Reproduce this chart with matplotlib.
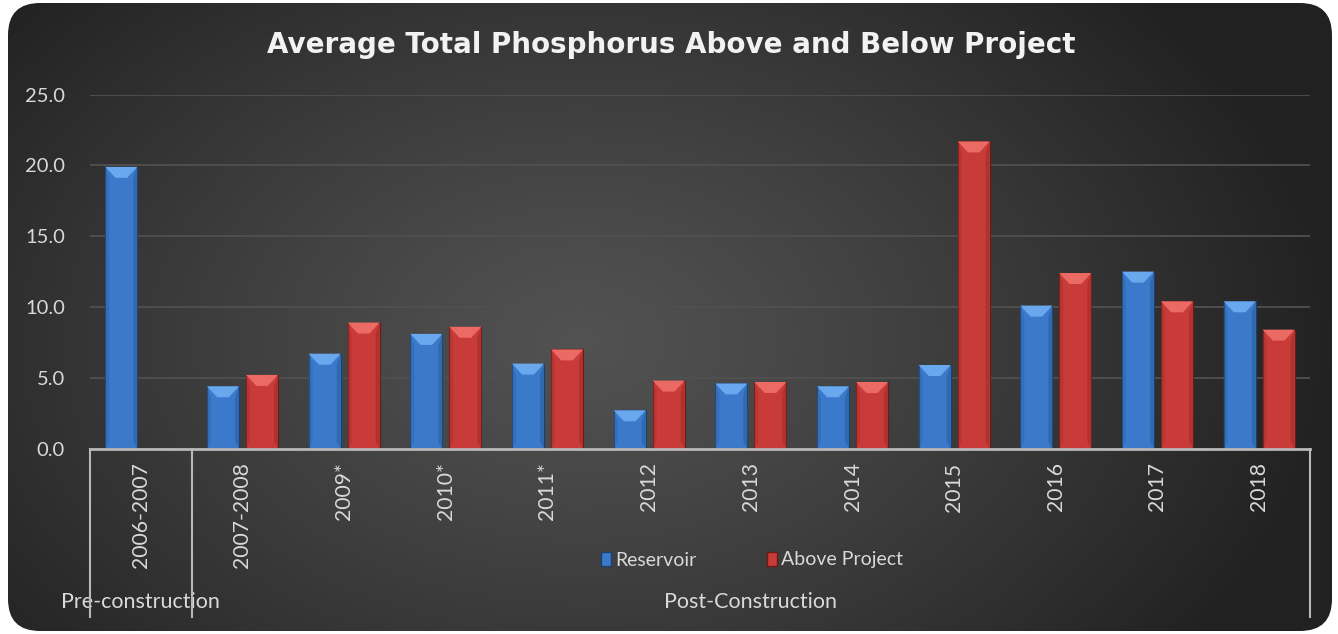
import numpy as np
import matplotlib
matplotlib.use("Agg")
import matplotlib.pyplot as plt
from matplotlib.patches import FancyBboxPatch, Polygon, Patch
import matplotlib.transforms as mtransforms

# ---------------- data ----------------
categories = ["2006-2007", "2007-2008", "2009*", "2010*", "2011*", "2012",
              "2013", "2014", "2015", "2016", "2017", "2018"]
reservoir = [19.9, 4.4, 6.7, 8.1, 6.0, 2.7, 4.6, 4.4, 5.9, 10.1, 12.5, 10.4]
above_project = [np.nan, 5.2, 8.9, 8.6, 7.0, 4.8, 4.7, 4.7, 21.7, 12.4, 10.4, 8.4]
series_names = ["Reservoir", "Above Project"]
groups = ["Pre-construction", "Post-Construction"]
group_spans = [(0, 0), (1, 11)]  # first/last category index of each group
title = "Average Total Phosphorus Above and Below Project"
yticks = [0, 5, 10, 15, 20, 25]

W, H = 1338, 634
fig = plt.figure(figsize=(W / 100, H / 100), dpi=100)
fig.patch.set_facecolor("white")

# ---------------- background (rounded, radial gradient) ----------------
bg = fig.add_axes([0, 0, 1, 1], zorder=-10)
bg.set_xlim(0, W)
bg.set_ylim(H, 0)
bg.axis("off")
yy, xx = np.mgrid[0:H, 0:W]
cx, cy = 580, 340
d = np.sqrt(((xx - cx) / 760.0) ** 2 + ((yy - cy) / 520.0) ** 2)
v = 0.32 - 0.19 * np.clip(d, 0, 1) ** 1.2
img = np.dstack([v, v, v])
im = bg.imshow(img, extent=[0, W, H, 0], interpolation="bilinear", aspect="auto")
frame = FancyBboxPatch((8, 3), W - 14, H - 6,
                       boxstyle="round,pad=0,rounding_size=32",
                       transform=bg.transData, facecolor="none", edgecolor="none")
bg.add_patch(frame)
im.set_clip_path(frame)

# ---------------- main axes ----------------
ax = fig.add_axes([90 / W, 185.5 / H, 1220 / W, 353.8 / H])
ax.set_facecolor("none")
ax.set_xlim(-0.5, len(categories) - 0.5)
ax.set_ylim(0, 25)

x = np.arange(len(categories))
bw = 0.315
off = 0.192
blue, blue_light, blue_edge = "#3b7acb", "#6aa8ee", "#1d3f6e"
red, red_light, red_edge = "#c83b38", "#ec6a64", "#6a1a18"

b1 = ax.bar(x - off, reservoir, bw, color=blue, edgecolor=blue_edge, linewidth=0.8, zorder=3)
b2 = ax.bar(x + off, above_project, bw, color=red, edgecolor=red_edge, linewidth=0.8, zorder=3)

# bevel decorations derived from each bar's geometry
fig.canvas.draw()
bb = ax.get_window_extent()
px_y = bb.height / 25.0
px_x = bb.width / len(categories)
bev_h = 11 / px_y
side_w = 4 / px_x
for bars, light, dark in [(b1, blue_light, "#2d62a6"), (b2, red_light, "#a52f2c")]:
    for p in bars:
        h = p.get_height()
        if not np.isfinite(h) or h <= 0:
            continue
        x0, w = p.get_x(), p.get_width()
        top = h
        bh = min(bev_h, h * 0.5)
        ax.add_patch(Polygon([(x0, 0), (x0 + side_w, bh * 0.6), (x0 + side_w, top - bh),
                              (x0, top)], closed=True, facecolor=dark, edgecolor="none",
                             alpha=0.45, zorder=4))
        ax.add_patch(Polygon([(x0 + w, 0), (x0 + w - side_w, bh * 0.6), (x0 + w - side_w, top - bh),
                              (x0 + w, top)], closed=True, facecolor=dark, edgecolor="none",
                             alpha=0.7, zorder=4))
        ax.add_patch(Polygon([(x0, top), (x0 + w, top), (x0 + w * 0.68, top - bh),
                              (x0 + w * 0.32, top - bh)], closed=True, facecolor=light,
                             edgecolor="none", zorder=5))

# grid and spines
ax.set_yticks(yticks)
ax.set_yticklabels([f"{t:.1f}" for t in yticks])
ax.yaxis.grid(True, color="#505050", linewidth=1.3, zorder=0)
ax.set_axisbelow(True)
for s in ["top", "right", "left"]:
    ax.spines[s].set_visible(False)
ax.spines["bottom"].set_color("#b8b8b8")
ax.spines["bottom"].set_linewidth(2)
ax.spines["bottom"].set_zorder(6)

lab_font = "Lato"
ax.set_xticks(x)
ax.set_xticklabels(categories, rotation=90, va="top", ha="center")
ax.tick_params(axis="x", length=0, pad=10, labelsize=15.2, labelcolor="#d9d9d9")
ax.tick_params(axis="y", length=0, pad=18, labelsize=14.5, labelcolor="#d9d9d9")
for t in ax.get_xticklabels() + ax.get_yticklabels():
    t.set_fontfamily(lab_font)

# multi-level category separators and group labels
trans = mtransforms.blended_transform_factory(ax.transData, ax.transAxes)
sep_bottom = -(617 - 448.5) / 353.8
bounds = sorted(set([s - 0.5 for s, e in group_spans] + [e + 0.5 for s, e in group_spans]))
for bx in bounds:
    ax.plot([bx, bx], [0, sep_bottom], transform=trans, color="#b8b8b8",
            linewidth=1.5, clip_on=False, zorder=6)
for name, (s, e) in zip(groups, group_spans):
    ax.text((s + e) / 2.0, -(602 - 448.5) / 353.8, name, transform=trans,
            ha="center", va="center", fontsize=15.5, color="#d9d9d9", family=lab_font)

# legend
handles = [Patch(facecolor=blue, edgecolor=blue_edge, label=series_names[0]),
           Patch(facecolor=red, edgecolor=red_edge, label=series_names[1])]
leg = fig.legend(handles=handles, loc="center", bbox_to_anchor=(752 / W, 1 - 560 / H),
                 ncol=2, frameon=False, fontsize=14, handlelength=0.55, handleheight=0.75,
                 handletextpad=0.2, columnspacing=3.6)
for t in leg.get_texts():
    t.set_color("#d9d9d9")
    t.set_fontfamily(lab_font)

# title
fig.text(671 / W, 1 - 45 / H, title, ha="center", va="center", fontsize=20,
         fontweight="bold", color="#f2f2f2", family="DejaVu Sans")

fig.savefig("out.png", dpi=100, facecolor=fig.get_facecolor())
